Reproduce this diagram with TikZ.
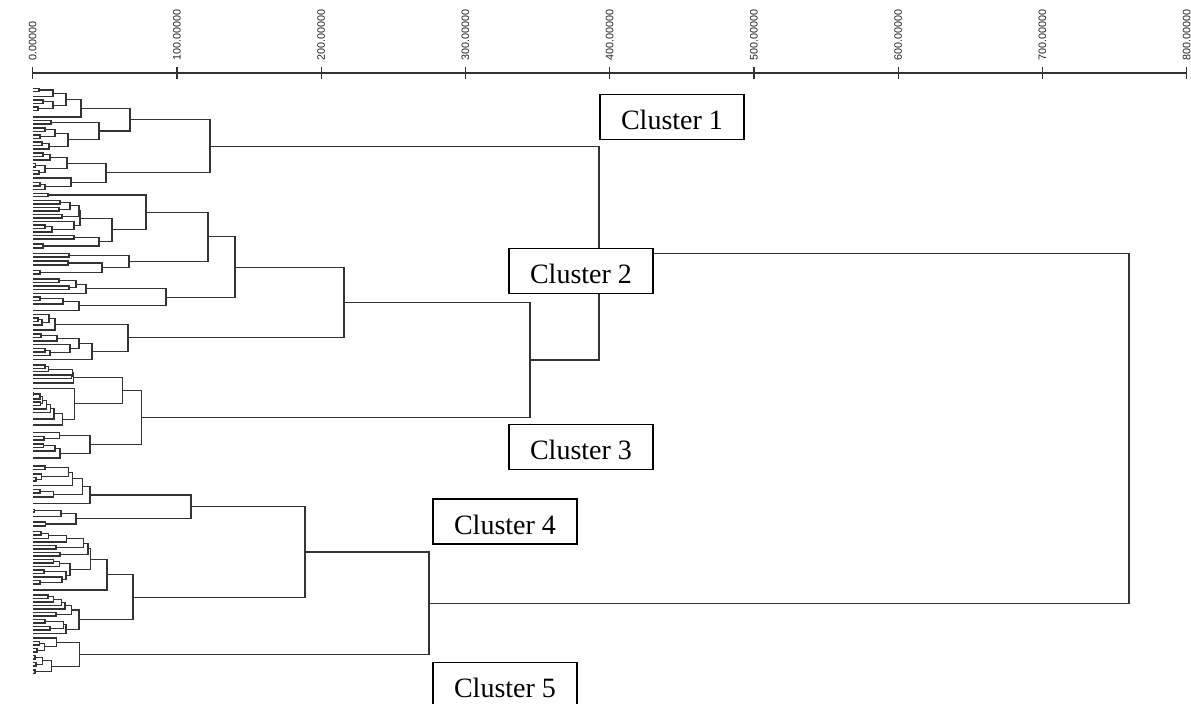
\documentclass[tikz,border=0pt]{standalone}
\usepackage{fontspec}
\setmainfont{Liberation Serif}
\setsansfont{Liberation Sans}
\usetikzlibrary{calc}
\tikzset{
  dg/.style={draw=black!80, line width=0.55pt},
  ax/.style={draw=black!80, line width=0.6pt},
  albl/.style={rotate=90, anchor=west, inner sep=0pt, text=black!88,
     font=\sffamily\fontsize{5.4}{6}\selectfont},
  cbox/.style={draw=black, line width=0.65pt, fill=white, inner sep=0pt,
     minimum width=72pt, minimum height=22.5pt,
     font=\fontsize{14}{16}\selectfont}
}
% cluster label text, baseline set below the box centre
\newcommand\clab[1]{\raisebox{-6.4pt}[0pt][0pt]{#1}}
% bracket: name, x (px), child A, child B
\newcommand\br[4]{%
  \draw[dg] let \p1=(#3), \p2=(#4) in (#3) -- ({#2*0.5pt},\y1) -- ({#2*0.5pt},\y2) -- (#4);
  \path let \p1=(#3), \p2=(#4) in coordinate (#1) at ({#2*0.5pt},{0.5*\y1+0.5*\y2});
}
\begin{document}
\begin{tikzpicture}[x=0.5pt, y=-0.5pt]
\useasboundingbox (0,0) rectangle (1191,704);
% axis
\coordinate (ax0) at (32.7,73);
\coordinate (ax1) at (1186.7,73);
\draw[ax] (ax0) -- (ax1);
\foreach \i/\t in {0/0,1/100,2/200,3/300,4/400,5/500,6/600,7/700,8/800}{
  \pgfmathsetmacro\xx{32.7+144.25*\i}
  \draw[ax] (\xx,67) -- (\xx,79);
  \node[albl] (t\i) at (\xx,61) {\t.00000};
}
% ---------- Cluster 1
\br{p1}{39}{33,88.3}{33,91.7}
\br{p2}{53}{p1}{33,96.7}
\br{p3}{43}{33,100}{33,103.3}
\br{p3b}{38}{33,107}{33,110.5}
\br{p4}{53}{p3}{p3b}
\br{p5}{66}{p2}{p4}
\br{p6}{81}{p5}{33,117}
\br{p7}{51}{33,120.5}{33,124}
\br{p8}{45}{33,128}{33,131.5}
\br{p9}{40}{33,135}{33,138.5}
\br{p10}{55}{p8}{p9}
\br{p11a}{42}{33,142}{33,145.5}
\br{p11}{49}{p11a}{33,149}
\br{p12}{68}{p10}{p11}
\br{p13}{99}{p7}{p12}
\br{C1a}{130}{p6}{p13}
\br{p14a}{43}{33,153}{33,156.5}
\br{p14}{50}{p14a}{33,160}
\br{p15}{35.5}{33,163.5}{33,167}
\br{p15c}{39}{33,170.5}{33,174}
\br{p15b}{45}{p15}{p15c}
\br{p16}{67}{p14}{p15b}
\br{p17}{40}{33,182.5}{33,186}
\br{p17c}{45}{p17}{33,189.5}
\br{p18}{71}{33,178}{p17c}
\br{C1b}{106}{p16}{p18}
\br{C1}{210}{C1a}{C1b}
% ---------- Cluster 2
\br{q1}{48}{33,193.3}{33,196.7}
\br{s1}{60}{33,200.5}{33,204}
\br{s2}{59}{33,207.5}{33,211}
\br{s3}{70}{s1}{s2}
\br{s4}{62}{33,214.5}{33,218}
\br{s5}{79}{s3}{s4}
\br{s6a}{45}{33,225}{33,228.5}
\br{s6b}{52}{s6a}{33,232}
\br{s6}{74}{33,221.5}{s6b}
\br{q21}{80}{s5}{s6}
\br{t1}{74}{33,235.5}{33,239}
\br{t2}{43}{33,244}{33,248}
\br{q22}{99}{t1}{t2}
\br{q2}{112}{q21}{q22}
\br{q}{146}{q1}{q2}
\br{r1}{69}{33,253.5}{33,257}
\br{r21}{68}{33,261}{33,265}
\br{r22}{40}{33,270.5}{33,274}
\br{r2}{102}{r21}{r22}
\br{r}{129}{r1}{r2}
\br{C2a1}{208}{q}{r}
\br{v1}{59}{33,279}{33,282.5}
\br{v2}{69}{33,286}{33,289.5}
\br{v3}{76}{v1}{v2}
\br{u1}{86}{v3}{33,293.5}
\br{u21a}{40}{33,297}{33,300.5}
\br{u21}{63}{u21a}{33,304}
\br{u2}{79}{u21}{33,310.5}
\br{C2a2}{166}{u1}{u2}
\br{C2a}{235}{C2a1}{C2a2}
\br{w11}{38}{33,318}{33,321.5}
\br{w11b}{42}{w11}{33,325}
\br{w12}{49}{33,314.5}{w11b}
\br{w1}{55}{w12}{33,330}
\br{w2111}{41}{33,334}{33,337.5}
\br{w211}{57}{w2111}{33,341}
\br{w212a}{45}{33,348.5}{33,352}
\br{w212b}{50}{w212a}{33,355.5}
\br{w212}{70}{33,344.5}{w212b}
\br{w21}{79}{w211}{w212}
\br{w2}{92}{w21}{33,359.5}
\br{C2b}{128}{w1}{w2}
\br{C2}{344}{C2a}{C2b}
% ---------- Cluster 3
\br{a3}{45}{33,365}{33,368.3}
\br{b3}{48.3}{a3}{33,371.5}
\br{c3a}{71.5}{33,375}{33,378.5}
\br{c3}{72.5}{b3}{c3a}
\br{x1}{73.3}{c3}{33,383}
\br{e1}{33.8}{33,392.5}{33,395.5}
\br{e2}{40}{e1}{33,399}
\br{e3a}{40.5}{33,402}{33,405.5}
\br{e3}{42.5}{e2}{e3a}
\br{e4}{46.7}{e3}{33,409}
\br{e5}{50.7}{e4}{33,412.5}
\br{e6}{54}{e5}{33,419}
\br{e7}{62.3}{e6}{33,425}
\br{x2}{74.3}{33,388.3}{e7}
\br{C3a}{122.7}{x1}{x2}
\br{f1}{44}{33,436.5}{33,440}
\br{f2}{59.3}{33,432.5}{f1}
\br{f3}{43.3}{33,444}{33,447.5}
\br{f4}{55}{f3}{33,451}
\br{f5}{60}{f4}{33,458}
\br{C3b}{90}{f2}{f5}
\br{C3}{141.7}{C3a}{C3b}
\br{C23}{530}{C2}{C3}
\br{A}{599}{C1}{C23}
% ---------- Cluster 4
\br{g211}{45}{33,466}{33,469.5}
\br{g212a}{36}{33,477.5}{33,481}
\br{g212}{41.7}{33,474}{g212a}
\br{g21}{68.3}{g211}{g212}
\br{g2}{72.7}{g21}{33,485.5}
\br{g3a}{40}{33,489.5}{33,493}
\br{g3}{53.3}{g3a}{33,497}
\br{g1}{82.7}{g2}{g3}
\br{g}{90}{g1}{33,503.5}
\br{h11}{34.3}{33,509.3}{33,512}
\br{h1}{61}{h11}{33,516.5}
\br{h2}{45.3}{33,522}{33,526}
\br{h}{76}{h1}{h2}
\br{C4a}{191}{g}{h}
\br{k1}{41}{33,531.5}{33,535}
\br{k2}{48.3}{k1}{33,538.5}
\br{k3}{66.7}{k2}{33,542}
\br{k4}{56}{33,545.5}{33,549}
\br{k5}{83.3}{k3}{k4}
\br{k6}{60}{33,552.5}{33,556}
\br{i11}{88}{k5}{k6}
\br{k7}{53.3}{33,559.5}{33,563}
\br{k8}{59.3}{k7}{33,566.5}
\br{k9}{44}{33,570}{33,573.5}
\br{k10a}{40}{33,580.5}{33,584}
\br{k10}{62}{33,577}{k10a}
\br{k11}{66}{k9}{k10}
\br{i12}{70}{k8}{k11}
\br{i1}{90.7}{i11}{i12}
\br{i}{107}{i1}{33,590}
\br{m1}{48}{33,595}{33,598.5}
\br{m2}{53.3}{m1}{33,602}
\br{m3}{61.7}{m2}{33,605.5}
\br{m4}{65}{m3}{33,609}
\br{m5}{56}{33,612.5}{33,616}
\br{j1}{71.7}{m4}{m5}
\br{n1}{45}{33,619.5}{33,623}
\br{n2}{50}{33,626.5}{33,630}
\br{n3}{63.3}{n1}{n2}
\br{j2}{66}{n3}{33,633.5}
\br{j}{79}{j1}{j2}
\br{C4b}{133}{i}{j}
\br{C4}{305}{C4a}{C4b}
% ---------- Cluster 5
\br{o111}{39.3}{33,641.5}{33,645}
\br{o11a}{37}{33,648.5}{33,652}
\br{o11}{44.3}{o111}{o11a}
\br{o1}{56.7}{33,638}{o11}
\br{o211}{35}{33,655.5}{33,659}
\br{o212}{36}{33,662.5}{33,666}
\br{o21}{42.3}{o211}{o212}
\br{o22}{35}{33,670}{33,673.5}
\br{o2}{51.7}{o21}{o22}
\br{C5}{79.3}{o1}{o2}
\br{C45}{429}{C4}{C5}
\br{root}{1129}{A}{C45}
% ---------- labels
\node[cbox] (L1) at (672,117) {\clab{Cluster 1}};
\node[cbox] (L2) at (581,271.2) {\clab{Cluster 2}};
\node[cbox] (L3) at (581,447.2) {\clab{Cluster 3}};
\node[cbox] (L4) at (505,521.5) {\clab{Cluster 4}};
\node[cbox] (L5) at (505,685) {\clab{Cluster 5}};
\end{tikzpicture}
\end{document}
